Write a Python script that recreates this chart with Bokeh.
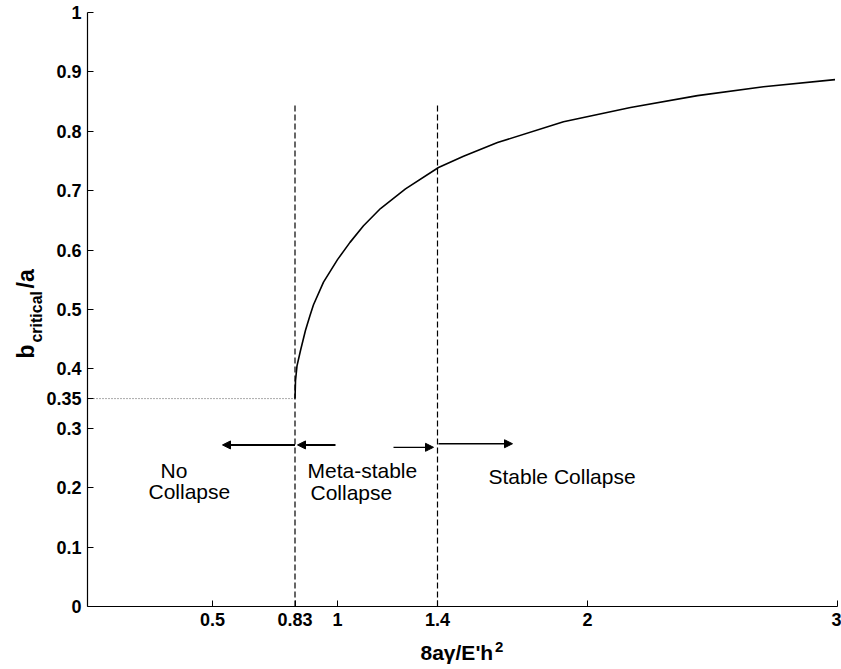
from bokeh.plotting import figure
from bokeh.models import Range1d, FixedTicker, Label, Arrow, NormalHead, ColumnDataSource, LinearAxis
from bokeh.core.properties import value
from bokeh.embed import file_html
from bokeh.resources import INLINE

# Curve b_critical/a versus 8a*gamma/(E' h^2)
curve_x = [0.83, 0.832, 0.838, 0.852, 0.872, 0.89, 0.904, 0.944, 1.0, 1.05, 1.104, 1.172, 1.272, 1.404,
           1.504, 1.64, 1.904, 2.172, 2.44, 2.704, 2.99]
curve_y = [0.35, 0.38, 0.405, 0.431, 0.465, 0.49, 0.508, 0.546, 0.584, 0.613, 0.641, 0.67, 0.703, 0.739,
           0.758, 0.781, 0.816, 0.840, 0.860, 0.875, 0.887]

# Region boundaries
boundary_x = [0.83, 1.4]
boundary_top = 0.847
threshold_y = 0.35

x_ticks = [0.5, 0.83, 1, 1.4, 2, 3]
x_tick_labels = ["0.5", "0.83", "1", "1.4", "2", "3"]
y_ticks = [0, 0.1, 0.2, 0.3, 0.35, 0.4, 0.5, 0.6, 0.7, 0.8, 0.9, 1]
y_tick_labels = ["0", "0.1", "0.2", "0.3", "0.35", "0.4", "0.5", "0.6", "0.7", "0.8", "0.9", "1"]

# Arrows (start -> end)
arrow_x0 = [0.83, 0.992, 1.224, 1.404]
arrow_x1 = [0.54, 0.84, 1.384, 1.70]
arrow_y = [0.272, 0.272, 0.268, 0.274]
arrow_w = [2, 2, 1.3, 1.3]

# Region labels
region_text = ["No", "Collapse", "Meta-stable", "Collapse", "Stable Collapse"]
region_x = [0.292, 0.244, 0.88, 0.892, 1.604]
region_y = [0.229, 0.194, 0.229, 0.192, 0.219]

FONT = "Liberation Sans"

# the frame fills the canvas; axes are drawn at x=0 / y=0
p = figure(width=841, height=669, output_backend="svg", toolbar_location=None,
           x_range=Range1d(-87 / 250, 3 + 4 / 250), y_range=Range1d(-63 / 594, 1 + 12 / 594),
           x_axis_location=None, y_axis_location=None,
           min_border=0)
p.outline_line_color = None
p.background_fill_color = "white"
p.border_fill_color = "white"
p.grid.visible = False

xaxis = LinearAxis(fixed_location=0, bounds=(0, 3))
yaxis = LinearAxis(fixed_location=0, bounds=(0, 1))
p.add_layout(xaxis, "below")
p.add_layout(yaxis, "left")

for ax, ticks, labels in ((xaxis, x_ticks, x_tick_labels), (yaxis, y_ticks, y_tick_labels)):
    ax.ticker = FixedTicker(ticks=ticks)
    ax.major_label_overrides = {t: l for t, l in zip(ticks, labels)}
    ax.major_tick_in = 6
    ax.major_tick_out = 0
    ax.minor_tick_line_color = None
    ax.axis_line_color = "black"
    ax.axis_line_width = 1.2
    ax.major_tick_line_color = "black"
    ax.major_label_text_font = FONT
    ax.major_label_text_font_size = "18px"
    ax.major_label_text_font_style = "bold"
    ax.major_label_text_color = "black"
    ax.major_label_standoff = 6

# threshold dotted line
p.line([0, boundary_x[0]], [threshold_y, threshold_y], line_color="#555555",
       line_dash="1 2", line_width=1)
# boundaries
for bx in boundary_x:
    p.line([bx, bx], [0, boundary_top], line_color="black", line_dash="6 3", line_width=1.2)

p.line(curve_x, curve_y, line_color="black", line_width=1.6)

for x0, x1, y, w in zip(arrow_x0, arrow_x1, arrow_y, arrow_w):
    p.add_layout(Arrow(end=NormalHead(size=8, fill_color="black", line_color="black"),
                       x_start=x0, y_start=y, x_end=x1, y_end=y,
                       line_color="black", line_width=w))

src = ColumnDataSource(dict(x=region_x, y=region_y, t=region_text))
p.text(x="x", y="y", text="t", source=src, text_font=value(FONT), text_font_size="21px",
       text_color="black", text_baseline="alphabetic", text_align="left")

# axis labels built from pieces
def lab(x, y, t, size, angle=0, bold=True):
    p.add_layout(Label(x=x, y=y, text=t, angle=angle, angle_units="deg",
                       text_font=FONT, text_font_size=size,
                       text_font_style="bold" if bold else "normal",
                       text_color="black", text_baseline="alphabetic", text_align="left"))

# y label: b_critical / a
lab(-0.248, 0.4175, "b", "23px", angle=90)
lab(-0.204, 0.4444, "critical", "16px", angle=90)
lab(-0.248, 0.5354, "/a", "23px", angle=90)

# x label: 8aγ/E'h²
lab(1.332, -0.0774, "8aγ/E'h", "21px")
lab(1.630, -0.069, "2", "15px")

open("out.html", "w").write(file_html(p, INLINE))
